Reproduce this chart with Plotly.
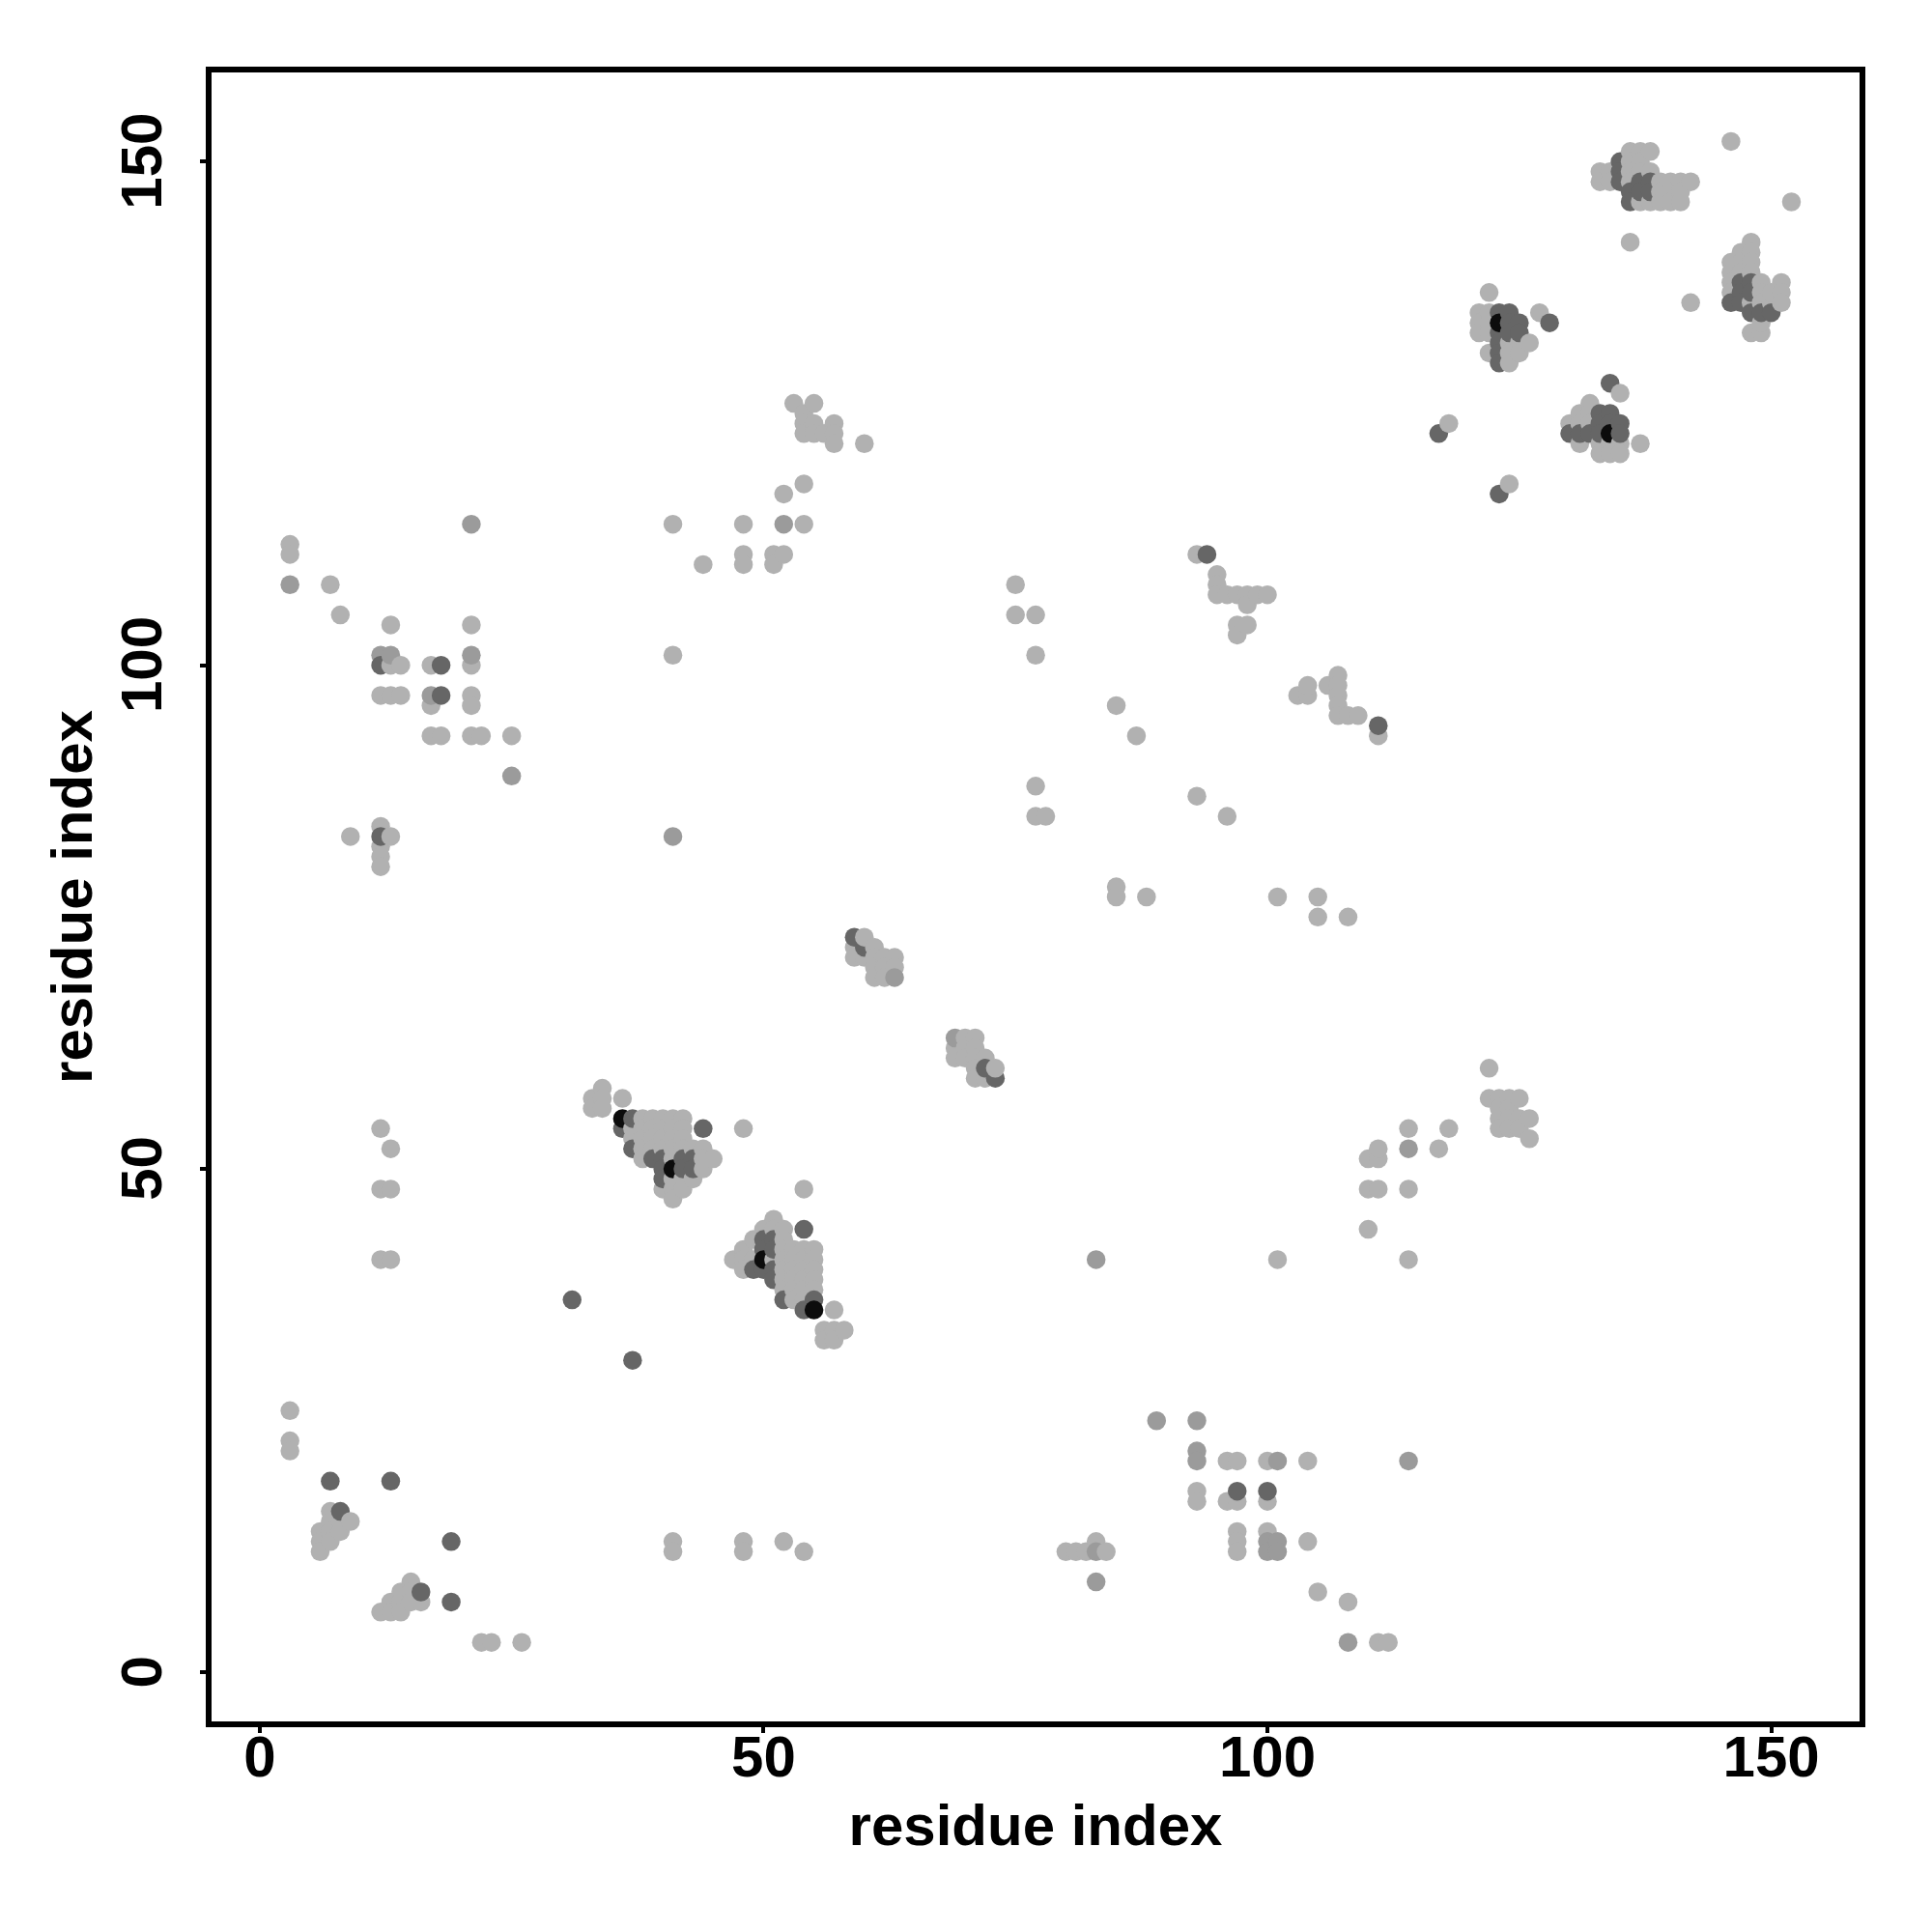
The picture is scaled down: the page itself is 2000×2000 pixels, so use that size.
import plotly.graph_objects as go

# (residue x, residue y) contacts, grouped by grey level
light = [
 (3,26),(3,23),(3,22),(7,16),(7,15),(8,15),(9,15),(6,14),(7,14),(8,14),(6,13),(7,13),(6,12),
 (15,9),(14,8),(15,8),(13,7),(14,7),(15,7),(16,7),(12,6),(13,6),(14,6),(22,3),(23,3),(26,3),
 (41,13),(41,12),(48,13),(48,12),(52,13),(54,12),(80,12),(81,12),(82,12),(83,13),(84,12),
 (96,21),(97,21),(100,21),(104,21),(93,18),(93,17),(96,17),(97,17),(100,17),
 (97,14),(97,13),(97,12),(100,14),(104,13),(105,8),(108,7),(111,3),(112,3),
 (34,58),(33,57),(34,57),(33,56),(34,56),(36,57),(48,54),
 (38,55),(39,55),(40,55),(41,55),(42,55),(37,54),(38,54),(39,54),(40,54),(41,54),(42,54),
 (37,53),(38,53),(39,53),(40,53),(41,53),(42,53),(38,52),(39,52),(40,52),(41,52),(42,52),(43,52),(44,52),
 (38,51),(41,51),(44,51),(45,51),(44,50),(41,49),(42,49),(43,49),(40,48),(41,48),(42,48),(41,47),
 (54,48),(51,45),(50,44),(51,44),(52,44),(49,43),(52,43),(48,42),(47,41),(48,41),(49,41),(48,40),(51,41),
 (52,42),(53,42),(54,42),(55,42),(52,41),(53,41),(54,41),(55,41),(52,40),(53,40),(54,40),(55,40),
 (52,39),(53,39),(54,39),(55,39),(52,38),(53,38),(54,38),(55,38),(53,37),(54,37),
 (57,36),(56,34),(57,34),(58,34),(56,33),(57,33),
 (12,54),(13,52),(12,48),(13,48),(12,41),(13,41),(101,41),(110,44),(110,48),(111,48),(110,51),(111,51),(111,52),
 (114,54),(114,48),(114,41),(117,52),(118,54),(122,60),(122,57),(123,57),(124,57),(125,57),(123,56),(124,56),
 (123,55),(124,55),(125,55),(126,55),(123,54),(124,54),(125,54),(126,53),
 (59,72),(59,71),(60,71),(61,72),(61,71),(62,71),(63,71),(61,70),(62,70),(63,70),(61,69),(62,69),
 (70,63),(71,63),(69,62),(70,62),(71,62),(69,61),(70,61),(71,61),(72,61),(71,60),(71,59),(72,59),
 (7,108),(8,105),(13,104),(21,104),(21,100),(3,112),(3,111),(13,100),(14,100),(12,97),(13,97),(14,97),
 (17,100),(17,96),(21,97),(21,96),(17,93),(18,93),(21,93),(22,93),(25,93),(9,83),(12,84),(13,83),(12,82),(12,81),(12,80),
 (41,101),(41,114),(48,114),(54,114),(52,117),(54,118),(44,110),(48,111),(48,110),(51,111),(52,111),(51,110),
 (53,126),(55,126),(54,125),(54,124),(55,124),(57,124),(54,123),(55,123),(56,123),(57,123),(57,122),(60,122),
 (75,108),(75,105),(77,105),(77,101),(85,96),(87,93),(77,88),(77,85),(78,85),(93,87),(96,85),(85,78),(85,77),(88,77),
 (101,77),(105,77),(105,75),(108,75),(93,111),(95,109),(95,108),(95,107),(96,107),(97,107),(98,107),(99,107),(100,107),
 (98,106),(97,104),(98,104),(97,103),(103,97),(104,97),(104,98),(106,98),(107,99),(107,98),(107,97),(107,96),(107,95),
 (108,95),(109,95),(111,93),
 (122,137),(121,135),(121,134),(121,133),(122,135),(122,134),(122,133),(122,131),(124,132),(125,132),(126,132),(124,131),(125,131),(124,130),(127,135),
 (135,127),(132,126),(131,125),(132,125),(130,124),(131,124),(132,124),(131,122),(133,122),(134,122),(135,122),(133,121),(134,121),(135,121),(137,122),
 (118,124),(124,118),(146,152),(152,146),(136,142),(148,142),(133,149),(134,149),(133,148),(134,148),
 (136,151),(137,151),(138,151),(136,150),(137,150),(136,149),(137,149),(138,149),(136,148),(139,148),(140,148),(141,148),(142,148),
 (139,147),(140,147),(141,147),(137,146),(138,146),(139,146),(140,146),(141,146),
 (142,136),(147,141),(148,141),(146,140),(147,140),(148,140),(146,139),(147,139),(148,139),(146,138),(146,137),
 (149,138),(149,137),(149,136),(148,136),(150,136),(150,137),(151,138),(151,137),(151,136),(148,133),(149,133),(149,134),
]
mid = [
 (83,12),(83,9),(89,25),(93,25),(93,22),(93,21),(101,21),(114,21),(100,13),(100,12),(101,13),(101,12),(108,3),
 (83,41),(114,52),(63,69),(69,63),(3,108),(21,114),(21,101),(12,101),(13,101),(17,97),(25,89),(41,83),(52,114),
]
dark = [
 (7,19),(13,19),(8,16),(16,8),(19,13),(19,7),(97,18),(100,18),(31,37),(37,31),(36,54),(37,55),(44,54),(37,52),
 (39,51),(40,51),(40,50),(42,51),(42,50),(43,51),(43,50),(40,49),(54,44),(50,43),(51,43),(50,42),(51,42),
 (49,40),(50,40),(51,40),(51,39),(55,37),(54,36),(52,37),(59,73),(60,72),(72,60),(73,59),(12,100),(18,100),(18,97),(12,83),
 (94,111),(111,94),(117,123),(123,117),(123,135),(124,135),(124,134),(125,134),(123,133),(124,133),(125,133),
 (123,132),(123,131),(123,130),(128,134),(134,128),(133,125),(134,125),(135,124),(133,124),(134,124),(130,123),(131,123),(132,123),
 (133,123),(135,123),(135,150),(135,149),(135,148),(136,147),(136,146),(137,148),(138,148),(137,147),(138,147),
 (146,136),(147,138),(148,138),(147,137),(148,137),(147,136),(148,135),(149,135),(150,135),
]
black = [(36,55),(41,50),(50,41),(55,36),(123,134),(134,123)]
light_top = [(60,73),(73,60)]

groups = [(light, "#b1b1b1"), (mid, "#9b9b9b"), (dark, "#666666"), (black, "#0c0c0c"), (light_top, "#b1b1b1")]
rows = [(px, py, c) for pts, c in groups for px, py in pts]
rows.sort(key=lambda r: r[0])

x_ticks = [0, 50, 100, 150]
y_ticks = [0, 50, 100, 150]
FONT = "Liberation Sans"

fig = go.Figure(go.Scatter(
    x=[r[0] for r in rows], y=[r[1] for r in rows], mode="markers",
    marker=dict(size=19.5, color=[r[2] for r in rows], line=dict(width=0)),
    cliponaxis=True, hoverinfo="skip"))

axis = dict(
    showgrid=False, zeroline=False, showline=True, mirror=True, linecolor="black", linewidth=5.5,
    ticks="outside", ticklen=6, tickwidth=3.5, tickcolor="black",
    tickfont=dict(family=FONT, size=60, color="black", weight="bold"),
)
fig.update_layout(
    width=2000, height=2000, paper_bgcolor="white", plot_bgcolor="white", showlegend=False,
    margin=dict(l=210.5, r=83, t=67, b=226, autoexpand=False),
)
fig.update_xaxes(**axis, range=[-4.78, 158.76], tickvals=x_ticks, ticklabelstandoff=-27,
    title=dict(text="<b>residue index</b>", font=dict(family=FONT, size=60, color="black"), standoff=19))
fig.update_yaxes(**axis, range=[-4.85, 158.85], tickvals=y_ticks,
    ticktext=[f"{t}\u00a0" for t in y_ticks], tickangle=-90, ticklabelstandoff=16,
    title=dict(text="<b>residue index</b>", font=dict(family=FONT, size=60, color="black"), standoff=0))
fig.write_html("out.html")
